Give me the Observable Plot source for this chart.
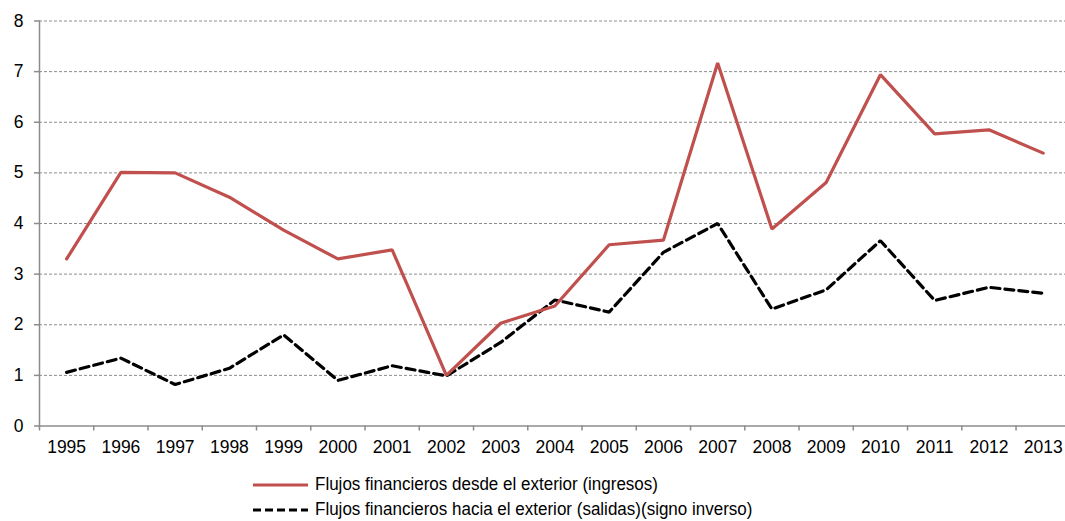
<!DOCTYPE html>
<html><head><meta charset="utf-8">
<script src="https://cdn.jsdelivr.net/npm/d3@7"></script>
<script src="https://cdn.jsdelivr.net/npm/@observablehq/plot@0.6"></script>
<style>
body{margin:0;background:#fff;font-family:"Liberation Sans",Arial,sans-serif;}
#wrap{position:relative;width:1065px;height:521px;overflow:hidden;background:#fff;}
#wrap svg.plot{display:block;}
.leg{position:absolute;left:253px;height:22px;line-height:22px;font-size:17px;color:#000;display:flex;align-items:center;white-space:nowrap;}
.leg svg{margin-right:7px;}
.leg span{display:inline-block;transform:scaleY(1.1);}
</style></head><body><div id="wrap"></div>
<script>
const years = [1995,1996,1997,1998,1999,2000,2001,2002,2003,2004,2005,2006,2007,2008,2009,2010,2011,2012,2013];
const ingresos = [3.30,5.01,5.00,4.52,3.87,3.30,3.48,1.00,2.03,2.37,3.58,3.67,7.17,3.89,4.81,6.94,5.77,5.85,5.39];
const salidas = [1.06,1.34,0.82,1.14,1.80,0.90,1.19,0.99,1.65,2.49,2.25,3.43,4.00,2.31,2.69,3.66,2.48,2.74,2.62];
const seriesNames = ["Flujos financieros desde el exterior (ingresos)", "Flujos financieros hacia el exterior (salidas)(signo inverso)"];
const seriesColors = ["#C0504D", "#000000"];
const yTicks = [0,1,2,3,4,5,6,7,8];
const xDomain = [1994.5, 2013.5];
const boundaries = d3.range(xDomain[0], xDomain[1] + 0.01, 1);

const table = [];
years.forEach((y, i) => {
  table.push({year: y, value: ingresos[i], serie: seriesNames[0]});
  table.push({year: y, value: salidas[i], serie: seriesNames[1]});
});

const chart = Plot.plot({
  width: 1065,
  height: 462,
  marginLeft: 39,
  marginRight: 0,
  marginTop: 20.5,
  marginBottom: 36.5,
  x: {type: "linear", domain: xDomain, range: [39, 1069.8], label: null},
  y: {domain: [0, 8], range: [425.5, 20.5], label: null},
  style: {fontFamily: "'Liberation Sans', Arial, sans-serif", fontSize: "17.5px", color: "#000", background: "#fff", overflow: "visible"},
  marks: [
    Plot.gridY(yTicks.filter(d => d > 0), {stroke: "#8c8c8c", strokeOpacity: 1, strokeDasharray: "3,2", strokeWidth: 1}),
    Plot.frame({anchor: "left", stroke: "#8c8c8c", strokeWidth: 1.5}),
    Plot.frame({anchor: "bottom", stroke: "#8c8c8c", strokeWidth: 1.5}),
    Plot.axisY(yTicks, {tickSize: 5, tickFormat: () => "", stroke: "#8c8c8c", strokeWidth: 1.5, label: null}),
    Plot.axisY(yTicks, {tickSize: 0, tickPadding: 16, tickFormat: "d", fontSize: 17.5, fill: "#000", label: null}),
    Plot.axisX(boundaries, {tickSize: 5, tickFormat: () => "", stroke: "#8c8c8c", strokeWidth: 1.5, label: null}),
    Plot.axisX(years, {tickSize: 0, tickPadding: 15, tickFormat: "d", fontSize: 17.5, fill: "#000", label: null}),
    Plot.line(table.filter(d => d.serie === seriesNames[1]), {x: "year", y: "value", stroke: seriesColors[1], strokeWidth: 3.2, strokeDasharray: "9,5", strokeLinejoin: "miter"}),
    Plot.line(table.filter(d => d.serie === seriesNames[0]), {x: "year", y: "value", stroke: seriesColors[0], strokeWidth: 3.2, strokeLinejoin: "miter"})
  ]
});
const wrap = document.getElementById("wrap");
wrap.appendChild(chart);

const legendTops = [474, 499];
seriesNames.forEach((name, i) => {
  const row = document.createElement("div");
  row.className = "leg";
  row.style.top = legendTops[i] + "px";
  const dash = i === 1 ? ' stroke-dasharray="8,4"' : '';
  row.innerHTML = `<svg width="55" height="6"><line x1="0" x2="55" y1="3" y2="3" stroke="${seriesColors[i]}" stroke-width="3.2"${dash}/></svg><span>${name}</span>`;
  wrap.appendChild(row);
});
</script>
</body></html>
